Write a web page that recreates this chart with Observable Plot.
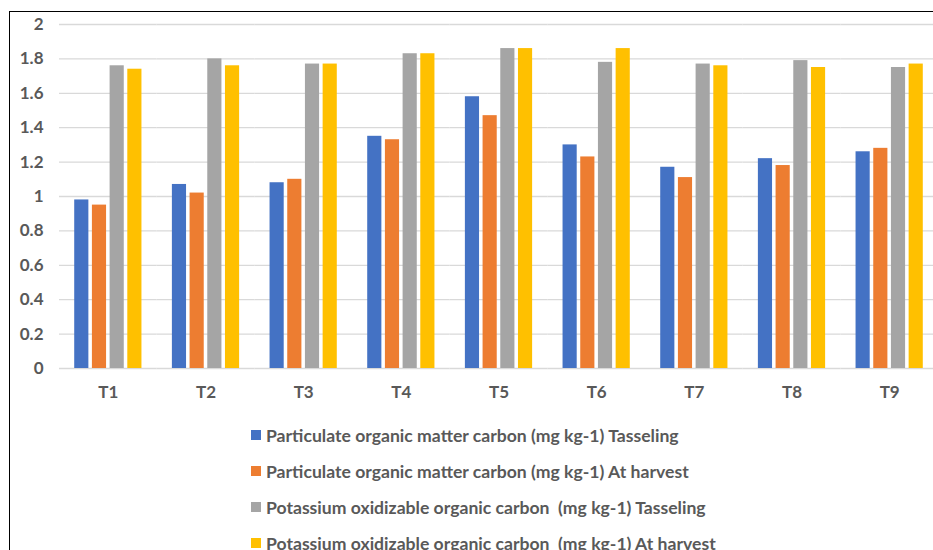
<!DOCTYPE html>
<html>
<head>
<meta charset="utf-8">
<script src="https://cdn.jsdelivr.net/npm/d3@7"></script>
<script src="https://cdn.jsdelivr.net/npm/@observablehq/plot@0.6"></script>
<style>
  html, body { margin: 0; padding: 0; background: #fff; }
  #wrap { position: relative; width: 933px; height: 550px; overflow: hidden; background: #fff; font-family: Lato, "Open Sans", sans-serif; }
  #frame { position: absolute; left: 9px; top: 11px; width: 1000px; height: 1000px; border: 1.5px solid #000; box-sizing: border-box; }
  #chart { position: absolute; left: 0; top: 0; width: 960px; }
  #chart svg { max-width: none !important; }
  #legend { position: absolute; left: 251px; top: 417px; }
  .row { display: flex; align-items: center; height: 36px; font-size: 17.6px; font-weight: bold; color: #595959; white-space: pre; }
  .sw { width: 10px; height: 10px; margin-right: 5px; flex: none; }
</style>
</head>
<body>
<div id="wrap">
  <div id="frame"></div>
  <div id="chart"></div>
  <div id="legend"></div>
</div>
<script>
const groups = ["T1", "T2", "T3", "T4", "T5", "T6", "T7", "T8", "T9"];
const seriesNames = [
  "Particulate organic matter carbon (mg kg-1) Tasseling",
  "Particulate organic matter carbon (mg kg-1) At harvest",
  "Potassium oxidizable organic carbon  (mg kg-1) Tasseling",
  "Potassium oxidizable organic carbon  (mg kg-1) At harvest"
];
const seriesColors = ["#4472C4", "#ED7D31", "#A5A5A5", "#FFC000"];
const pomTasseling = [0.98, 1.07, 1.08, 1.35, 1.58, 1.30, 1.17, 1.22, 1.26];
const pomHarvest   = [0.95, 1.02, 1.10, 1.33, 1.47, 1.23, 1.11, 1.18, 1.28];
const poxTasseling = [1.76, 1.80, 1.77, 1.83, 1.86, 1.78, 1.77, 1.79, 1.75];
const poxHarvest   = [1.74, 1.76, 1.77, 1.83, 1.86, 1.86, 1.76, 1.75, 1.77];
const yTicks = [0, 0.2, 0.4, 0.6, 0.8, 1, 1.2, 1.4, 1.6, 1.8, 2];

const seriesValues = [pomTasseling, pomHarvest, poxTasseling, poxHarvest];
const table = [];
groups.forEach((g, i) => {
  seriesNames.forEach((s, j) => {
    table.push({group: g, series: s, value: seriesValues[j][i]});
  });
});

const chart = Plot.plot({
  width: 945,
  height: 400,
  marginLeft: 59,
  marginRight: 7,
  marginTop: 24,
  marginBottom: 32,
  style: {fontFamily: "Lato, 'Open Sans', sans-serif", fontSize: "17px", fontWeight: "bold", color: "#595959", background: "transparent", overflow: "visible", maxWidth: "none"},
  fx: {domain: groups, padding: 0, round: false, axis: "bottom", label: null, tickSize: 0, tickPadding: 17},
  x: {domain: seriesNames, paddingInner: 0.2, paddingOuter: 0.86, round: false, axis: null},
  y: {domain: [0, 2], ticks: yTicks, tickSize: 0, tickPadding: 16, label: null, tickFormat: d => String(+d.toFixed(1))},
  color: {domain: seriesNames, range: seriesColors},
  facet: {data: table, x: "group"},
  marks: [
    Plot.ruleY(yTicks, {stroke: "#d9d9d9", strokeWidth: 1.3}),
    Plot.barY(table, {x: "series", y: "value", fill: "series"})
  ]
});
document.getElementById("chart").appendChild(chart);

const legend = document.getElementById("legend");
seriesNames.forEach((s, j) => {
  const row = document.createElement("div");
  row.className = "row";
  const sw = document.createElement("span");
  sw.className = "sw";
  sw.style.background = seriesColors[j];
  const t = document.createElement("span");
  t.textContent = s;
  row.appendChild(sw);
  row.appendChild(t);
  legend.appendChild(row);
});
</script>
</body>
</html>
